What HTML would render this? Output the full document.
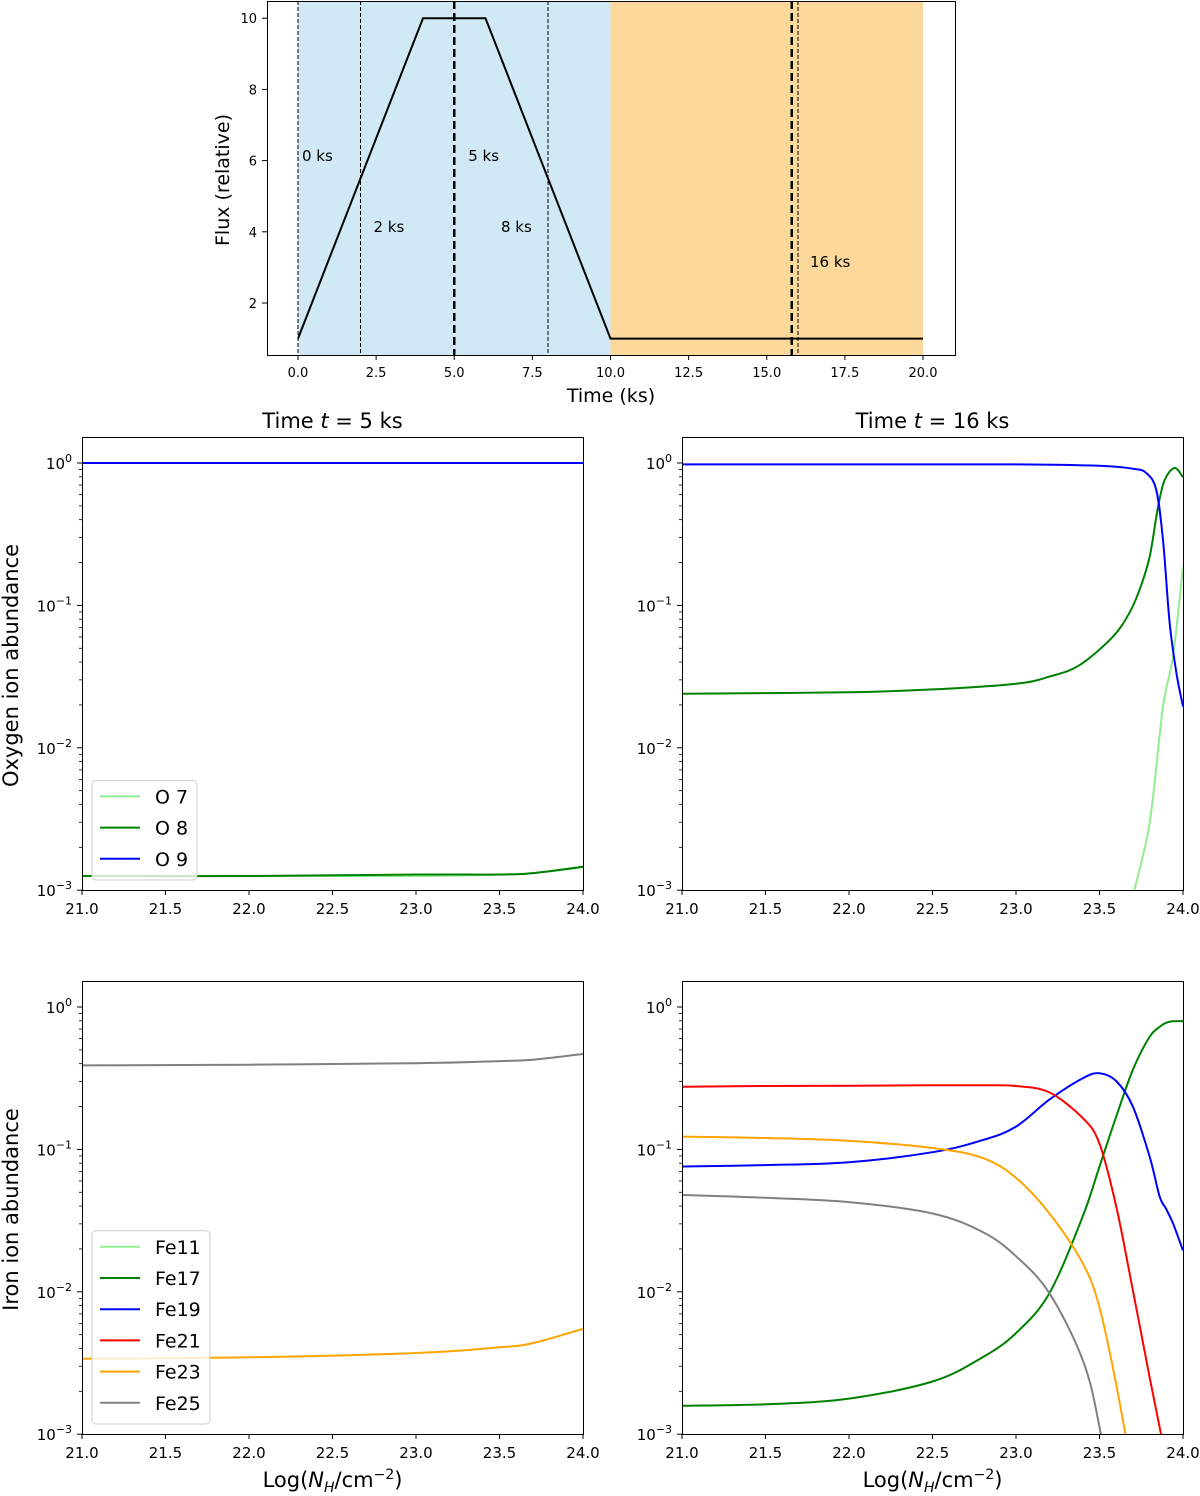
<!DOCTYPE html>
<html><head><meta charset="utf-8"><style>
html,body{margin:0;padding:0;background:#fff;overflow:hidden;width:1200px;height:1496px;}
svg{display:block;font-family:"DejaVu Sans","Liberation Sans",sans-serif;}
</style></head><body>
<svg id="fig" width="1200" height="1496" viewBox="0 0 1200 1496" xmlns="http://www.w3.org/2000/svg"></svg>
<script>
// ---- Top panel data ----
const fluxT = [0, 4, 6, 10, 20];
const fluxV = [1, 10, 10, 1, 1];
const snapTimes = [0, 2, 5, 8, 15.8, 16];
const snapLabels = ["0 ks", "2 ks", "5 ks", "8 ks", "", "16 ks"];
const topXTicks = [0, 2.5, 5, 7.5, 10, 12.5, 15, 17.5, 20];
const topYTicks = [2, 4, 6, 8, 10];
// ---- Abundance panels (log10 abundance) ----
const nhTicks = [21, 21.5, 22, 22.5, 23, 23.5, 24];
// Oxygen t=5
const oL_x = [21, 22, 23, 23.5, 23.7, 24];
const oL_O7 = [-2.9, -2.9, -2.9, -2.89, -2.88, -2.84];
const oL_O8 = [-2.9, -2.9, -2.89, -2.89, -2.88, -2.835];
const oL_O9 = [0, 0, 0, 0, 0, 0];
// Oxygen t=16
const oR_x = [21, 22, 22.5, 23, 23.2, 23.38, 23.58, 23.68, 23.74, 23.8, 23.85, 23.89, 23.95, 24];
const oR_O8 = [-1.62, -1.61, -1.59, -1.55, -1.5, -1.42, -1.22, -1.05, -0.89, -0.66, -0.31, -0.12, -0.035, -0.1];
const oR9_x = [21, 22, 23, 23.5, 23.7, 23.78, 23.84, 23.88, 23.92, 23.96, 24];
const oR_O9 = [-0.01, -0.01, -0.01, -0.02, -0.04, -0.07, -0.19, -0.54, -1.12, -1.47, -1.71];
const oR7_x = [23.68, 23.7, 23.8, 23.88, 23.94, 24];
const oR_O7 = [-3.3, -3.05, -2.53, -1.71, -1.36, -0.73];
// Iron t=5
const fL_x = [21, 22, 23, 23.5, 23.7, 24];
const fL_Fe23 = [-2.47, -2.46, -2.43, -2.39, -2.36, -2.26];
const fL_Fe25 = [-0.41, -0.405, -0.395, -0.38, -0.37, -0.33];
// Iron t=16
const fR_x = [21, 21.5, 22, 22.5, 22.8, 23, 23.2, 23.4, 23.5, 23.6, 23.7, 23.8, 23.86, 23.9, 23.94, 24];
const fR_Fe17 = [-2.8, -2.79, -2.75, -2.63, -2.46, -2.29, -2.01, -1.47, -1.12, -0.77, -0.44, -0.21, -0.14, -0.11, -0.1, -0.1];
const fR_Fe19 = [-1.12, -1.11, -1.09, -1.02, -0.935, -0.84, -0.65, -0.5, -0.465, -0.52, -0.7, -1.05, -1.33, -1.42, -1.52, -1.71];
const fR_Fe21 = [-0.56, -0.555, -0.553, -0.55, -0.55, -0.555, -0.6, -0.78, -0.96, -1.4, -1.99, -2.6, -2.95, -3.2, -3.5, -3.9];
const fR_Fe23 = [-0.91, -0.92, -0.94, -0.99, -1.06, -1.2, -1.45, -1.8, -2.11, -2.65, -3.3, -4, -4.5, -5, -5, -5];
const fR_Fe25 = [-1.32, -1.34, -1.37, -1.45, -1.58, -1.75, -2.01, -2.48, -2.95, -3.7, -4.5, -5, -5, -5, -5, -5];

const NS = "http://www.w3.org/2000/svg";
const svg = document.getElementById('fig');
function mk(tag, attrs, parent){ const e = document.createElementNS(NS, tag); for (const k in attrs) e.setAttribute(k, attrs[k]); (parent||svg).appendChild(e); return e; }
function txt(s, attrs, parent){ const e = mk('text', attrs, parent); e.textContent = s; return e; }
function smoothPath(pts){
  let d = 'M' + pts[0][0].toFixed(1) + ',' + pts[0][1].toFixed(1);
  for (let i = 0; i < pts.length - 1; i++) {
    const p0 = pts[i - 1] || pts[i], p1 = pts[i], p2 = pts[i + 1], p3 = pts[i + 2] || pts[i + 1];
    const c1 = [p1[0] + (p2[0] - p0[0]) / 6, p1[1] + (p2[1] - p0[1]) / 6];
    const c2 = [p2[0] - (p3[0] - p1[0]) / 6, p2[1] - (p3[1] - p1[1]) / 6];
    d += ' C' + c1.map(v => v.toFixed(1)).join(',') + ' ' + c2.map(v => v.toFixed(1)).join(',') + ' ' + p2[0].toFixed(1) + ',' + p2[1].toFixed(1);
  }
  return d;
}

// ---------- TOP PANEL ----------
const TX = v => 298 + v * 31.25;
const TY = v => 338.6 - (v - 1) * 35.6;
const topG = mk('g', {});


let r = mk('rect', {x: TX(0), y: 1, width: TX(10) - TX(0), height: 354, fill: '#d0e9f5'}, topG);
 
r = mk('rect', {x: TX(10), y: 1, width: TX(20) - TX(10), height: 354, fill: '#fcd99a'}, topG);
 
snapTimes.forEach((t, i) => {
  const thick = (t === 5 || t === 15.8);
  const l = mk('line', {x1: TX(t), x2: TX(t), y1: 1, y2: 355, stroke: '#000', 'stroke-width': thick ? 2.5 : 1, 'stroke-dasharray': thick ? '8,4' : '4,2'}, topG);
  
  
});
const labDx = [4, 13, 14, -47, 0, 12];
const labY = [161, 232, 161, 232, 0, 267];
snapLabels.forEach((s, i) => { if (!s) return;
  const t = txt(s, {x: TX(snapTimes[i]) + labDx[i], y: labY[i], 'font-size': 15}, topG);
  
  
});
const fp = mk('polyline', {points: fluxT.map((t, i) => TX(t) + ',' + TY(fluxV[i])).join(' '), fill: 'none', stroke: '#000', 'stroke-width': 2}, topG);
 
mk('rect', {x: 267.5, y: 1.5, width: 688, height: 354, fill: 'none', stroke: '#000', 'stroke-width': 1}, topG);
topXTicks.forEach(v => {
  mk('line', {x1: TX(v), x2: TX(v), y1: 355, y2: 360, stroke: '#000'}, topG);
  const t = txt(v.toFixed(1), {x: TX(v), y: 377, 'font-size': 13, 'text-anchor': 'middle'}, topG);
   
});
topYTicks.forEach(v => {
  mk('line', {x1: 262, x2: 267, y1: TY(v), y2: TY(v), stroke: '#000'}, topG);
  const t = txt(String(v), {x: 257, y: TY(v) + 5, 'font-size': 13, 'text-anchor': 'end'}, topG);
   
});
let tt = txt('Time (ks)', {x: 611, y: 402, 'font-size': 19, 'text-anchor': 'middle'}, topG);
 
tt = txt('Flux (relative)', {x: 0, y: 0, 'font-size': 19, 'text-anchor': 'middle', transform: 'translate(229,180) rotate(-90)'}, topG);
 

// ---------- LOG PANELS ----------
function panel(name, x0, y0, dec0, series, title, xlabel, ylabel, legend){
  const g = mk('g', {});
  
  
  const W = 501, H = 453;
  const X = v => x0 + (v - 21) * W / 3;
  const Y = v => dec0 - v * 142.4;
  const cid = name + '-clip';
  const cp = mk('clipPath', {id: cid}, g); mk('rect', {x: x0, y: y0, width: W, height: H}, cp);
  const sg = mk('g', {'clip-path': 'url(#' + cid + ')'}, g);
  series.forEach(s => {
    const pts = s.x.map((xv, i) => [X(xv), Y(s.y[i])]);
    const p = mk('path', {d: smoothPath(pts), fill: 'none', stroke: s.c, 'stroke-width': 2}, sg);
    
    
  });
  mk('rect', {x: x0 + .5, y: y0 + .5, width: W, height: H, fill: 'none', stroke: '#000'}, g);
  nhTicks.forEach(v => {
    mk('line', {x1: X(v), x2: X(v), y1: y0 + H, y2: y0 + H + 5, stroke: '#000'}, g);
    const t = txt(v.toFixed(1), {x: X(v), y: y0 + H + 24, 'font-size': 15, 'text-anchor': 'middle'}, g);
     
  });
  for (let d = 0; d >= -3; d--) {
    mk('line', {x1: x0 - 5, x2: x0, y1: Y(d), y2: Y(d), stroke: '#000'}, g);
    const t = mk('text', {x: x0 - 10, y: Y(d) + 6, 'font-size': 15, 'text-anchor': 'end'}, g);
     
    const b = mk('tspan', {}, t); b.textContent = '10';
    const e = mk('tspan', {dy: -7, 'font-size': 11}, t); e.textContent = (d < 0 ? '\u2212' + (-d) : '0');
    for (let m = 2; m <= 9; m++) {
      const yy = Y(d - 1 + Math.log10(m));
      if (yy >= y0 && yy <= y0 + H) mk('line', {x1: x0 - 3, x2: x0, y1: yy, y2: yy, stroke: '#000', 'stroke-width': .8}, g);
    }
  }
  for (let m = 2; m <= 9; m++) { const yy = Y(Math.log10(m)); if (yy >= y0) mk('line', {x1: x0 - 3, x2: x0, y1: yy, y2: yy, stroke: '#000', 'stroke-width': .8}, g); }
  if (title) { const t = mk('text', {x: x0 + W / 2, y: y0 - 9, 'font-size': 21, 'text-anchor': 'middle'}, g);
     
    mk('tspan', {}, t).textContent = 'Time ';
    mk('tspan', {'font-style': 'italic'}, t).textContent = 't';
    mk('tspan', {}, t).textContent = ' = ' + title + ' ks'; }
  if (xlabel) { const t = mk('text', {x: x0 + W / 2, y: y0 + H + 53, 'font-size': 21, 'text-anchor': 'middle'}, g);
     
    mk('tspan', {}, t).textContent = 'Log(';
    mk('tspan', {'font-style': 'italic'}, t).textContent = 'N';
    mk('tspan', {'font-style': 'italic', 'font-size': 14, dy: 5}, t).textContent = 'H';
    mk('tspan', {dy: -5}, t).textContent = '/cm';
    mk('tspan', {'font-size': 14, dy: -8}, t).textContent = '\u22122';
    mk('tspan', {dy: 8}, t).textContent = ')'; }
  if (ylabel) { const t = txt(ylabel, {x: 0, y: 0, 'font-size': 21, 'text-anchor': 'middle', transform: 'translate(18,' + (y0 + H / 2 + 2) + ') rotate(-90)'}, g);
      }
  if (legend) {
    const lg = mk('g', {}, g);
     
    const n = legend.length, ly = y0 + H - 10 - n * 31.2 - 6;
    mk('rect', {x: x0 + 10, y: ly, width: legend.w, height: n * 31.2 + 6, rx: 4, fill: '#fff', 'fill-opacity': .8, stroke: '#ccc'}, lg);
    legend.forEach((e, i) => {
      const yy = ly + 16 + i * 31.2;
      const it = mk('g', {}, lg);
       
      mk('line', {x1: x0 + 18, x2: x0 + 58, y1: yy, y2: yy, stroke: e[1], 'stroke-width': 2}, it);
      txt(e[0], {x: x0 + 73, y: yy + 7, 'font-size': 19}, it);
    });
  }
}
const oLeg = [['O 7', '#90ee90'], ['O 8', 'green'], ['O 9', 'blue']]; oLeg.w = 105;
const fLeg = [['Fe11', '#90ee90'], ['Fe17', 'green'], ['Fe19', 'blue'], ['Fe21', 'red'], ['Fe23', 'orange'], ['Fe25', 'gray']]; fLeg.w = 118;
panel('oxygen-t5-panel', 82, 437, 463, [
  {n: 'o7', x: oL_x, y: oL_O7, c: '#90ee90'}, {n: 'o8', x: oL_x, y: oL_O8, c: 'green'}, {n: 'o9', x: oL_x, y: oL_O9, c: 'blue'}
], '5', null, 'Oxygen ion abundance', oLeg);
panel('oxygen-t16-panel', 682, 437, 463, [
  {n: 'o7', x: oR7_x, y: oR_O7, c: '#90ee90'}, {n: 'o8', x: oR_x, y: oR_O8, c: 'green'}, {n: 'o9', x: oR9_x, y: oR_O9, c: 'blue'}
], '16', null, null, null);
panel('iron-t5-panel', 82, 981, 1007, [
  {n: 'fe23', x: fL_x, y: fL_Fe23, c: 'orange'}, {n: 'fe25', x: fL_x, y: fL_Fe25, c: 'gray'}
], null, true, 'Iron ion abundance', fLeg);
panel('iron-t16-panel', 682, 981, 1007, [
  {n: 'fe17', x: fR_x, y: fR_Fe17, c: 'green'}, {n: 'fe19', x: fR_x, y: fR_Fe19, c: 'blue'},
  {n: 'fe21', x: fR_x, y: fR_Fe21, c: 'red'}, {n: 'fe23', x: fR_x, y: fR_Fe23, c: 'orange'}, {n: 'fe25', x: fR_x, y: fR_Fe25, c: 'gray'}
], null, true, null, null);
</script>
</body></html>
